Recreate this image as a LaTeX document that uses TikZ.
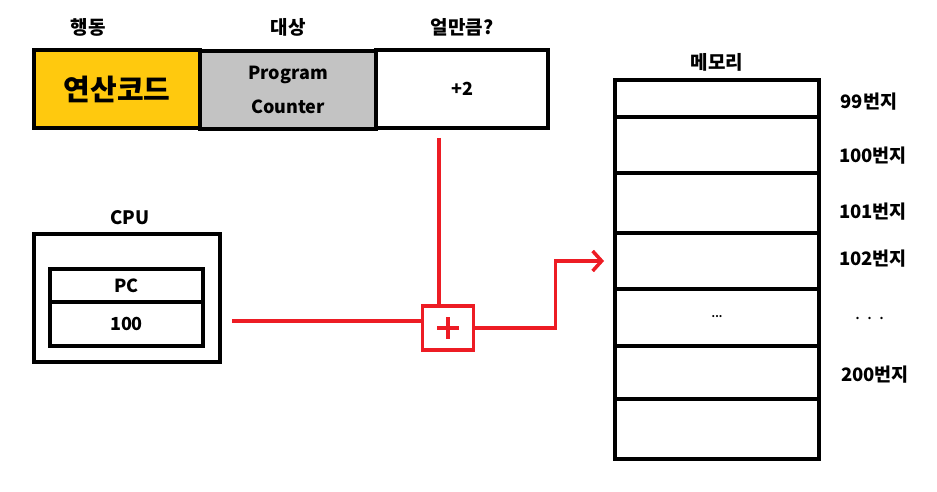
\documentclass[tikz,border=0pt]{standalone}
\usepackage{fontspec}
\setmainfont{Noto Sans CJK KR}
\usetikzlibrary{arrows.meta,calc}
\definecolor{codeyellow}{HTML}{FFC90E}
\definecolor{cellgray}{HTML}{C3C3C3}
\definecolor{linered}{HTML}{ED1C24}
\begin{document}
\begin{tikzpicture}[x=1pt,y=-1pt,
  cellbox/.style={draw=black,line width=4.5pt,inner sep=0pt,font=\bfseries\fontsize{18}{20}\selectfont},
  membox/.style={draw=black,line width=4pt,inner sep=0pt,minimum width=204pt},
  lbl/.style={inner sep=0pt,font=\bfseries\fontsize{18.5}{20}\selectfont},
  headlbl/.style={inner sep=0pt,font=\bfseries\fontsize{19}{20}\selectfont},
  redline/.style={draw=linered,line width=3.5pt},
  redarrow/.style={redline,-{Straight Barb[length=9pt,width=20pt,line width=3.5pt]}}
]
\useasboundingbox (0,0) rectangle (937,492);
% headers
\node[headlbl] (h1) at (88,27) {행동};
\node[headlbl] (h2) at (288,27) {대상};
\node[headlbl] (h3) at (462,27) {얼만큼?};
% instruction table
\node[cellbox,fill=codeyellow,minimum width=166pt,minimum height=78pt,font=\bfseries\fontsize{29}{30}\selectfont] (op) at (117,89) {연산코드};
\node[cellbox,fill=cellgray,minimum width=176pt,minimum height=78pt,align=center,font=\bfseries\fontsize{18}{34}\selectfont] (tgt) at (288,90) {Program\\Counter};
\node[cellbox,fill=white,minimum width=172pt,minimum height=78pt] (amt) at (462,89) {+2};
% CPU
\node[lbl] (cpulbl) at (130,218) {CPU};
\node[draw=black,line width=4pt,minimum width=186pt,minimum height=128pt] (cpu) at (127,298) {};
\node[cellbox,line width=4pt,minimum width=153pt,minimum height=33pt] (pcl) at (126.5,285.5) {PC};
\node[cellbox,line width=4pt,minimum width=153pt,minimum height=44pt] (pcv) at (126.5,324) {100};
% memory
\node[headlbl] (memlbl) at (717,62) {메모리};
\node[membox,minimum height=37pt] (m0) at (717,98.5) {};
\node[membox,minimum height=56pt] (m1) at (717,145) {};
\node[membox,minimum height=60pt] (m2) at (717,203) {};
\node[membox,minimum height=56pt] (m3) at (717,261) {};
\node[membox,minimum height=57pt] (m4) at (717,317.5) {\raisebox{2pt}{\bfseries\fontsize{10}{10}\selectfont ...}};
\node[membox,minimum height=53pt] (m5) at (717,372.5) {};
\node[membox,minimum height=60pt] (m6) at (717,429) {};
% address labels
\node[lbl] (a99) at (869,102) {99번지};
\node[lbl] (a100) at (873,156) {100번지};
\node[lbl] (a101) at (873,212) {101번지};
\node[lbl] (a102) at (873,259) {102번지};
\node[lbl,font=\fontsize{18}{20}\selectfont] (adots) at (870,318) {.\hspace{7pt}.\hspace{7pt}.};
\node[lbl] (a200) at (875,375) {200번지};
% adder
\node[draw=linered,line width=3.5pt,minimum width=51pt,minimum height=44pt,inner sep=0pt] (plus) at (448,328) {};
\draw[redline] ($(plus.center)+(-11,0)$) -- ($(plus.center)+(11,0)$);
\draw[redline] ($(plus.center)+(0,-11)$) -- ($(plus.center)+(0,11)$);
% connectors
\coordinate (cpuout) at (232,321);
\coordinate (amtout) at (439,138);
\draw[redline] (cpuout) -- (cpuout -| plus.west);
\draw[redline] (amtout) -- (amtout |- plus.north);
\draw[redarrow] (plus.east) -- ++(80,0) |- ([xshift=-9pt]m3.west);
\end{tikzpicture}
\end{document}
